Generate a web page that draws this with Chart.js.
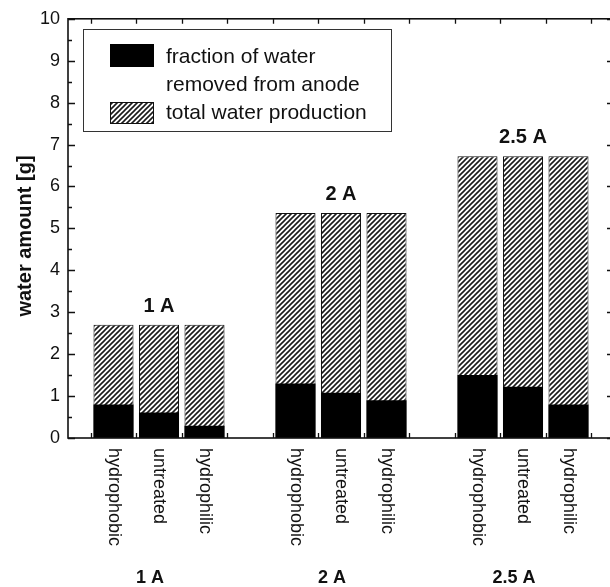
<!DOCTYPE html>
<html>
<head>
<meta charset="utf-8">
<script src="https://cdn.jsdelivr.net/npm/chart.js@4.4.0/dist/chart.umd.min.js"></script>
<style>
  html, body { margin: 0; padding: 0; background: #fff; overflow: hidden; width: 610px; height: 587px; }
  #wrap { position: absolute; left: 0; top: 0; width: 624px; height: 587px; }
</style>
</head>
<body>
<div id="wrap"><canvas id="c" width="624" height="587"></canvas></div>
<script>
// Cell current for each group of bars
const currents = ['1 A', '2 A', '2.5 A'];
// GDL treatment of each bar within a group
const treatments = ['hydrophobic', 'untreated', 'hydrophilic'];
// Total water produced [g], rows follow currents, columns follow treatments
const totalWater = [
  [2.70, 2.70, 2.70],
  [5.37, 5.37, 5.37],
  [6.72, 6.72, 6.72]
];
// Water removed from the anode side [g]
const anodeWater = [
  [0.80, 0.61, 0.29],
  [1.30, 1.08, 0.90],
  [1.50, 1.22, 0.80]
];
const yTickValues = [0, 1, 2, 3, 4, 5, 6, 7, 8, 9, 10];
const legendLabels = [['fraction of water', 'removed from anode'], ['total water production']];

const FONT = "'Liberation Sans', Arial, Helvetica, sans-serif";
const INK = '#111';

const canvas = document.getElementById('c');
const mainCtx = canvas.getContext('2d');

// diagonal "/" hatch used for the total production bars
function makeHatch() {
  const n = 5;
  const tile = document.createElement('canvas');
  tile.width = n; tile.height = n;
  const t = tile.getContext('2d');
  t.fillStyle = '#fff';
  t.fillRect(0, 0, n, n);
  t.strokeStyle = '#1a1a1a';
  t.lineWidth = 1.6;
  t.beginPath();
  t.moveTo(-1, n + 1); t.lineTo(n + 1, -1);
  t.moveTo(-1, 1); t.lineTo(1, -1);
  t.moveTo(n - 1, n + 1); t.lineTo(n + 1, n - 1);
  t.stroke();
  return mainCtx.createPattern(tile, 'repeat');
}
const hatch = makeHatch();

// slot on the x axis: three bars per group, one empty slot between groups
const slotOf = (g, t) => g * 4 + t + 1;
const groupCenter = g => g * 4 + 2;

const anodePoints = [];
const totalPoints = [];
currents.forEach((c, g) => {
  treatments.forEach((tr, t) => {
    anodePoints.push({ x: slotOf(g, t), y: anodeWater[g][t] });
    totalPoints.push({ x: slotOf(g, t), y: totalWater[g][t] });
  });
});

const frameTicks = {
  id: 'frameTicks',
  afterDatasetsDraw(chart) {
    const { ctx, chartArea: a, scales: { x, y } } = chart;
    ctx.save();
    ctx.strokeStyle = INK;
    ctx.lineWidth = 1.6;
    ctx.strokeRect(a.left, a.top, a.right - a.left, a.bottom - a.top);
    ctx.lineWidth = 1.3;
    ctx.beginPath();
    for (let v = x.min + 0.5; v < x.max; v += 1) {
      const px = Math.round(x.getPixelForValue(v)) + 0.5;
      ctx.moveTo(px, a.top); ctx.lineTo(px, a.top + 5);
      ctx.moveTo(px, a.bottom); ctx.lineTo(px, a.bottom - 5);
    }
    for (let v = y.min; v <= y.max + 1e-9; v += 0.5) {
      const py = Math.round(y.getPixelForValue(v)) + 0.5;
      const len = Number.isInteger(v) ? 7 : 4;
      ctx.moveTo(a.left, py); ctx.lineTo(a.left + len, py);
      ctx.moveTo(a.right, py); ctx.lineTo(a.right - len, py);
    }
    ctx.stroke();
    ctx.restore();
  }
};

const annotations = {
  id: 'annotations',
  afterDraw(chart) {
    const { ctx, chartArea: a, scales: { x, y } } = chart;
    ctx.save();
    ctx.fillStyle = INK;

    // treatment names under each bar, reading downwards
    ctx.font = `18px ${FONT}`;
    ctx.textAlign = 'left';
    ctx.textBaseline = 'middle';
    currents.forEach((c, g) => {
      treatments.forEach((tr, t) => {
        ctx.save();
        ctx.translate(x.getPixelForValue(slotOf(g, t)), a.bottom + 10);
        ctx.rotate(Math.PI / 2);
        ctx.fillText(tr, 0, 0);
        ctx.restore();
      });
    });

    // current labels below the axis and above each group
    ctx.textAlign = 'center';
    ctx.textBaseline = 'alphabetic';
    currents.forEach((c, g) => {
      ctx.font = `bold 18px ${FONT}`;
      ctx.fillText(c, x.getPixelForValue(groupCenter(g)) - 9, a.bottom + 145);
      ctx.font = `bold 20px ${FONT}`;
      const top = Math.max(...totalWater[g]);
      ctx.fillText(c, x.getPixelForValue(groupCenter(g)), y.getPixelForValue(top) - 13);
    });

    // y axis title
    ctx.save();
    ctx.translate(25, 236);
    ctx.rotate(-Math.PI / 2);
    ctx.font = `bold 20px ${FONT}`;
    ctx.textAlign = 'center';
    ctx.textBaseline = 'middle';
    ctx.fillText('water amount [g]', 0, 0);
    ctx.restore();

    // legend
    const lx = 83, ly = 29, lw = 308, lh = 102;
    ctx.fillStyle = '#fff';
    ctx.fillRect(lx, ly, lw, lh);
    ctx.strokeStyle = '#333';
    ctx.lineWidth = 1;
    ctx.strokeRect(lx + 0.5, ly + 0.5, lw, lh);

    const ds = chart.data.datasets;
    ctx.fillStyle = ds[0].backgroundColor;
    ctx.fillRect(110, 44, 44, 23);
    ctx.fillStyle = ds[1].backgroundColor;
    ctx.fillRect(110, 102, 44, 22);
    ctx.strokeStyle = INK;
    ctx.strokeRect(110.5, 102.5, 43, 21);

    ctx.fillStyle = INK;
    ctx.font = `21px ${FONT}`;
    ctx.textAlign = 'left';
    ctx.textBaseline = 'alphabetic';
    ctx.fillText(legendLabels[0][0], 166, 63);
    ctx.fillText(legendLabels[0][1], 166, 91);
    ctx.fillText(legendLabels[1][0], 166, 119);
    ctx.restore();
  }
};

new Chart(canvas, {
  type: 'bar',
  data: {
    datasets: [
      {
        label: legendLabels[0].join(' '),
        data: anodePoints,
        backgroundColor: '#000',
        borderWidth: 0,
        grouped: false,
        barPercentage: 0.88,
        categoryPercentage: 1
      },
      {
        label: legendLabels[1][0],
        data: totalPoints,
        backgroundColor: hatch,
        borderColor: INK,
        borderWidth: 1,
        borderSkipped: false,
        grouped: false,
        barPercentage: 0.88,
        categoryPercentage: 1
      }
    ]
  },
  options: {
    responsive: false,
    animation: false,
    devicePixelRatio: 1,
    layout: { padding: { left: 0, top: 17, right: 10, bottom: 149 } },
    plugins: { legend: { display: false }, tooltip: { enabled: false } },
    scales: {
      x: {
        type: 'linear',
        min: 0,
        max: 12,
        offset: false,
        display: false
      },
      y: {
        min: 0,
        max: 10,
        afterFit: s => { s.width = 68; },
        afterBuildTicks: s => { s.ticks = yTickValues.map(v => ({ value: v })); },
        grid: { display: false, drawTicks: false },
        border: { display: false },
        ticks: {
          padding: 8,
          color: INK,
          font: { family: FONT, size: 18 }
        }
      }
    }
  },
  plugins: [frameTicks, annotations]
});
</script>
</body>
</html>
